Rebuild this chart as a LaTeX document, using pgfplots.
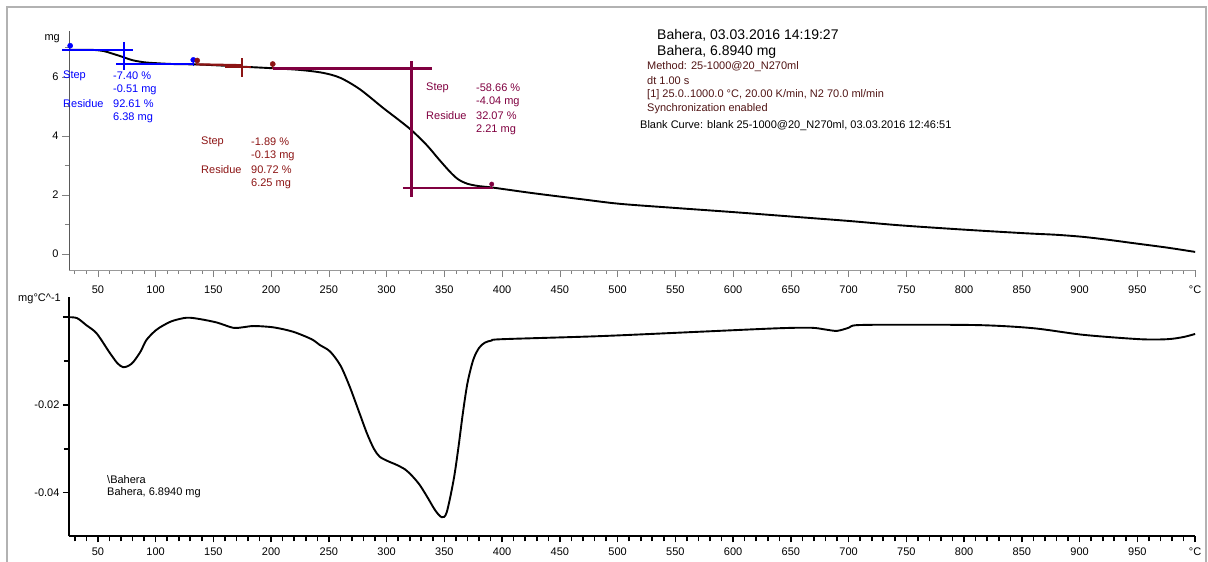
\documentclass[border=0pt]{standalone}
\usepackage{fontspec}
\setmainfont{Liberation Sans}
\usepackage{pgfplots}
\pgfplotsset{compat=1.18}
\definecolor{stepblue}{RGB}{0,0,255}
\definecolor{stepred}{RGB}{140,20,20}
\definecolor{steppur}{RGB}{128,0,64}
\definecolor{infored}{RGB}{80,20,20}
\newcommand{\sm}{\fontsize{11}{13}\selectfont}
\newcommand{\bg}{\fontsize{14}{16}\selectfont}
\begin{document}
\begin{tikzpicture}
\useasboundingbox (0pt,0pt) rectangle (1208pt,562pt);
\draw[black!30, line width=1.5pt] (7pt,0pt) -- (7pt,555pt) -- (1206pt,555pt) -- (1206pt,0pt);

% ---------------- TG ----------------
\begin{axis}[
  at={(69pt,291.8pt)}, anchor=south west, scale only axis,
  width=1126pt, height=238.9pt,
  xmin=25, xmax=1000, ymin=-0.55, ymax=7.55,
  axis x line=bottom, axis y line=left,
  x axis line style={-, black!40, line width=0.8pt},
  y axis line style={-, black!65, line width=0.8pt},
  scaled ticks=false,
  xtick={50,100,...,1000},
  xticklabels={50,100,150,200,250,300,350,400,450,500,550,600,650,700,750,800,850,900,950,°C},
  minor xtick={30,40,...,1000},
  ytick={0,2,4,6}, yticklabels={0,2,4,6},
  minor ytick={1,3,5,7},
  tick align=outside, major tick length=7pt, minor tick length=4pt,
  tick style={black!50, line width=0.6pt},
  tick label style={font=\sm},
  xticklabel style={yshift=-5pt},
  clip=false,
]
\addplot[black, line width=1.9pt, smooth, tension=0.5] coordinates {
(25,6.92) (45,6.92) (55,6.88) (62,6.80) (70,6.70) (80,6.57) (90,6.50) (100,6.47)
(115,6.44) (140,6.42) (175,6.35) (200,6.30) (225,6.24) (245,6.14) (260,5.97)
(277,5.58) (297,4.95) (310,4.56) (322,4.18) (335,3.68) (345,3.22) (355,2.78)
(362,2.53) (370,2.38) (380,2.30) (392,2.25) (427,2.06) (470,1.85) (502,1.70)
(550,1.56) (600,1.42) (650,1.27) (700,1.12) (745,0.97) (802,0.82) (854,0.70)
(880,0.65) (903,0.58) (925,0.48) (946,0.37) (975,0.22) (1000,0.07)
};
% step 1 (blue)
\addplot[stepblue, line width=2.2pt] coordinates {(19,6.92) (80.4,6.92)};
\addplot[stepblue, line width=2.2pt] coordinates {(72.4,7.19) (72.4,6.24)};
\addplot[stepblue, line width=2.2pt] coordinates {(65.7,6.44) (132.6,6.44)};
\addplot[stepblue, line width=1.4pt] coordinates {(132.6,6.58) (132.6,6.36)};
\addplot[stepblue, only marks, mark=*, mark size=2.6pt] coordinates {(26,7.06) (132.6,6.58)};
% step 2 (dark red)
\addplot[stepred, line width=2.2pt] coordinates {(135,6.43) (175,6.40)};
\addplot[stepred, line width=2.2pt] coordinates {(174.5,6.63) (174.5,5.99)};
\addplot[stepred, line width=2.2pt] coordinates {(160,6.35) (183,6.35)};
\addplot[stepred, line width=1.4pt] coordinates {(201.4,6.44) (201.4,6.28)};
\addplot[stepred, only marks, mark=*, mark size=2.6pt] coordinates {(136,6.56) (201.4,6.44)};
% step 3 (purple)
\addplot[steppur, line width=2.2pt] coordinates {(201.4,6.29) (339,6.29)};
\addplot[steppur, line width=2.2pt] coordinates {(321.5,6.54) (321.5,1.93)};
\addplot[steppur, line width=2.2pt] coordinates {(314,2.24) (392,2.24)};
\addplot[steppur, line width=1.4pt] coordinates {(391,2.37) (391,2.22)};
\addplot[steppur, only marks, mark=*, mark size=2.2pt] coordinates {(391,2.37)};
\end{axis}

% ---------------- DTG ----------------
\begin{axis}[
  at={(69pt,25.5pt)}, anchor=south west, scale only axis,
  width=1126pt, height=239.4pt,
  xmin=25, xmax=1000, ymin=-0.05, ymax=0.0046,
  axis x line=bottom, axis y line=left,
  axis line style={-, black, line width=2pt},
  scaled ticks=false,
  xtick={50,100,...,1000},
  xticklabels={50,100,150,200,250,300,350,400,450,500,550,600,650,700,750,800,850,900,950,°C},
  minor xtick={30,40,...,1000},
  ytick={-0.04,-0.02,0}, yticklabels={-0.04,-0.02,{}},
  minor ytick={-0.03,-0.01},
  tick align=outside, major tick length=6pt, minor tick length=5pt,
  tick style={black, line width=1.6pt},
  tick label style={font=\sm},
  xticklabel style={yshift=-2pt},
  clip=false,
]
\addplot[black, line width=1.9pt, smooth, tension=0.5] coordinates {
(25,0.0000) (32,-0.0002) (40,-0.0018) (49,-0.0037) (60,-0.0080) (67,-0.0105)
(72,-0.0114) (77,-0.0110) (81,-0.0101) (87,-0.0078) (92,-0.0052) (100,-0.0030)
(107,-0.0018) (115,-0.0008) (127,-0.0001) (138,-0.0004) (153,-0.0012) (167,-0.0024)
(175,-0.0023) (185,-0.0020) (202,-0.0023) (219,-0.0033) (235,-0.0050) (242,-0.0063)
(251,-0.0078) (260,-0.0110) (268,-0.0158) (276,-0.0215) (283,-0.0265) (289,-0.0300)
(294,-0.0318) (301,-0.0328) (309,-0.0337) (316,-0.0347) (320,-0.0356) (328,-0.0380)
(335,-0.0409) (342,-0.0440) (347.7,-0.0456) (352,-0.0445) (358,-0.0371) (362,-0.0300)
(366,-0.0219) (370,-0.0150) (375,-0.0097) (380,-0.0070) (385,-0.0058) (391,-0.0053)
(400,-0.0050) (485,-0.0043) (571,-0.0033) (640,-0.0025) (668,-0.0024) (680,-0.0028)
(690,-0.0031) (700,-0.0024) (707,-0.0018) (745,-0.0017) (814,-0.0018) (860,-0.0025)
(903,-0.0040) (952,-0.0050) (976,-0.0050) (990,-0.0045) (1000,-0.0038)
};
\end{axis}

% unit labels
\node[anchor=east, font=\sm, inner sep=0pt] at (60pt,523pt) {mg};
\node[anchor=east, font=\sm, inner sep=0pt] at (61pt,263pt) {mg°C\textasciicircum-1};

% step texts (blue)
\begin{scope}[every node/.style={anchor=west, font=\sm, inner sep=0pt, text=stepblue}]
\node at (63pt,486pt) {Step};
\node at (113pt,486pt) {-7.40 \%};
\node at (113pt,472pt) {-0.51 mg};
\node at (63pt,458pt) {Residue};
\node at (113pt,458pt) {92.61 \%};
\node at (113pt,444pt) {6.38 mg};
\end{scope}
\begin{scope}[every node/.style={anchor=west, font=\sm, inner sep=0pt, text=stepred}]
\node at (201pt,420pt) {Step};
\node at (251pt,420pt) {-1.89 \%};
\node at (251pt,406pt) {-0.13 mg};
\node at (201pt,392pt) {Residue};
\node at (251pt,392pt) {90.72 \%};
\node at (251pt,378pt) {6.25 mg};
\end{scope}
\begin{scope}[every node/.style={anchor=west, font=\sm, inner sep=0pt, text=steppur}]
\node at (426pt,474pt) {Step};
\node at (476pt,474pt) {-58.66 \%};
\node at (476pt,460pt) {-4.04 mg};
\node at (426pt,446pt) {Residue};
\node at (476pt,446pt) {32.07 \%};
\node at (476pt,432pt) {2.21 mg};
\end{scope}

% header
\node[anchor=west, font=\bg, inner sep=0pt] at (657pt,527pt) {Bahera, 03.03.2016 14:19:27};
\node[anchor=west, font=\bg, inner sep=0pt] at (657pt,510pt) {Bahera, 6.8940 mg};
\begin{scope}[every node/.style={anchor=west, font=\sm, inner sep=0pt, text=infored}]
\node at (647pt,495pt) {Method: 25-1000@20\_N270ml};
\node at (647pt,481pt) {dt 1.00 s};
\node at (647pt,467pt) {[1] 25.0..1000.0 °C, 20.00 K/min, N2 70.0 ml/min};
\node at (647pt,453pt) {Synchronization enabled};
\end{scope}
\node[anchor=west, font=\sm, inner sep=0pt] at (640pt,436pt) {Blank Curve: blank 25-1000@20\_N270ml, 03.03.2016 12:46:51};

% legend
\node[anchor=west, font=\sm, inner sep=0pt] at (107pt,82pt) {\textbackslash Bahera};
\node[anchor=west, font=\sm, inner sep=0pt] at (107pt,69pt) {Bahera, 6.8940 mg};
\end{tikzpicture}
\end{document}
